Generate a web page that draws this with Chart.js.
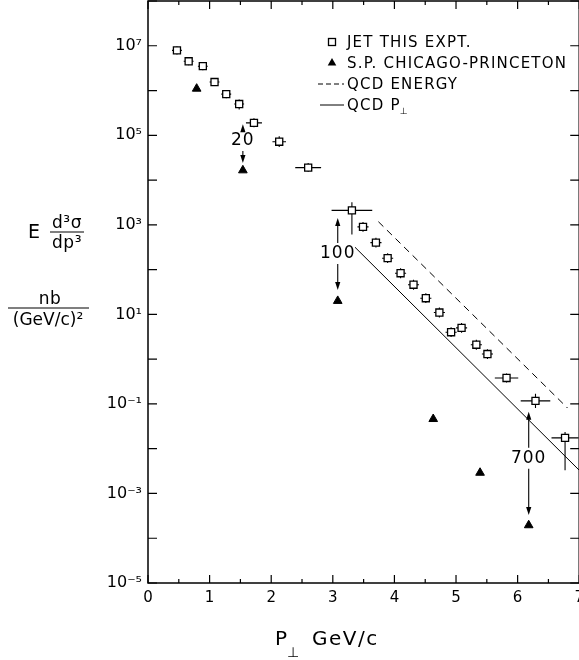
<!DOCTYPE html>
<html>
<head>
<meta charset="utf-8">
<title>Jet cross section</title>
<script src="https://cdn.jsdelivr.net/npm/chart.js@4.4.1/dist/chart.umd.min.js"></script>
<style>
    html, body { margin: 0; padding: 0; background: #fff; overflow: hidden; }
    canvas { display: block; }
</style>
</head>
<body>
<canvas id="grafico" width="590" height="660"></canvas>
<script>
// =======================
// DATA
// =======================

// JET, this experiment: P_perp (GeV/c) and E d3sigma/dp3 (nb/(GeV/c)^2)
const jetPt = [0.47, 0.66, 0.89, 1.08, 1.27, 1.48, 1.72, 2.13, 2.60, 3.31,
    3.49, 3.70, 3.89, 4.10, 4.31, 4.51, 4.73, 4.92, 5.09, 5.33, 5.51,
    5.82, 6.29, 6.77];
const jetSigma = [7.9e6, 4.5e6, 3.5e6, 1.55e6, 8.3e5, 5.0e5, 1.9e5, 7.2e4,
    1.9e4, 2.1e3, 9.0e2, 4.0e2, 1.8e2, 83, 46, 23, 11, 4.0, 5.0, 2.1, 1.3,
    0.38, 0.117, 0.0174];

// error bars: half width in P_perp, up / down in decades
const jetPtErr = [0.08, 0.08, 0.08, 0.08, 0.08, 0.08, 0.13, 0.11, 0.21, 0.33,
    0.09, 0.09, 0.09, 0.09, 0.09, 0.09, 0.09, 0.09, 0.09, 0.09, 0.09,
    0.19, 0.24, 0.22];
const jetErrUp = [0.09, 0.09, 0.09, 0.09, 0.09, 0.1, 0.1, 0.12, 0.1, 0.18,
    0.11, 0.11, 0.11, 0.11, 0.11, 0.11, 0.11, 0.11, 0.11, 0.11, 0.11,
    0.1, 0.16, 0.13];
const jetErrDown = [0.09, 0.09, 0.09, 0.09, 0.09, 0.12, 0.1, 0.12, 0.1, 0.54,
    0.11, 0.11, 0.11, 0.11, 0.11, 0.11, 0.11, 0.11, 0.11, 0.11, 0.11,
    0.1, 0.16, 0.72];

// single particle, Chicago-Princeton
const spPt = [0.79, 1.54, 3.08, 4.63, 5.39, 6.18];
const spSigma = [1.1e6, 1.65e4, 20, 0.046, 0.0029, 1.95e-4];

// QCD predictions (straight lines on the log scale)
const qcdEnergyPt = [3.74, 6.81];
const qcdEnergySigma = [1175, 0.081];
const qcdPerpPt = [3.36, 7.0];
const qcdPerpSigma = [316, 0.0033];

// jet / single particle ratios marked with arrows
const ratioText = ["20", "100", "700"];
const ratioPt = [1.54, 3.08, 6.18];
const ratioTop = [1.76e5, 1.42e3, 0.067];
const ratioMid = [7.9e4, 235, 6.3e-3];
const ratioBottom = [2.4e4, 35, 3.3e-4];

// axis ticks
const ptTicks = [0, 0.5, 1, 1.5, 2, 2.5, 3, 3.5, 4, 4.5, 5, 5.5, 6, 6.5, 7];
const decades = [-5, -4, -3, -2, -1, 0, 1, 2, 3, 4, 5, 6, 7, 8];
const labelledDecades = [-5, -3, -1, 1, 3, 5, 7];

const FONT = '"DejaVu Sans", sans-serif';

const SUP = { "-": "\u207B", "0": "\u2070", "1": "\u00B9", "2": "\u00B2",
    "3": "\u00B3", "4": "\u2074", "5": "\u2075", "6": "\u2076",
    "7": "\u2077", "8": "\u2078", "9": "\u2079" };

function powerLabel(v)
{
    const e = Math.round(Math.log10(v));
    if (!labelledDecades.includes(e)) return "";
    return "10" + String(e).split("").map(c => SUP[c]).join("");
}

function pairs(xs, ys)
{
    return xs.map((x, i) => ({ x: x, y: ys[i] }));
}

// =======================
// EXTRA DRAWING
// =======================

function arrow(ctx, x, y0, y1)
{
    // shaft from y0 to y1, head at y1
    const dir = y1 > y0 ? 1 : -1;
    ctx.beginPath();
    ctx.moveTo(x, y0);
    ctx.lineTo(x, y1 - dir * 6);
    ctx.stroke();
    ctx.beginPath();
    ctx.moveTo(x, y1);
    ctx.lineTo(x - 2.6, y1 - dir * 8);
    ctx.lineTo(x + 2.6, y1 - dir * 8);
    ctx.closePath();
    ctx.fill();
}

function spaced(ctx, text, x, y, size, spacing)
{
    ctx.font = size + "px " + FONT;
    ctx.letterSpacing = spacing + "px";
    ctx.fillText(text, x, y);
    const w = ctx.measureText(text).width;
    ctx.letterSpacing = "0px";
    return w;
}

const extras = {
    id: "extras",

    // frame runs right up to the top edge of the canvas
    afterLayout(chart)
    {
        const a = chart.chartArea, sy = chart.scales.y;
        a.top = 1;
        a.height = a.bottom - a.top;
        sy.top = 1;
        sy.height = sy.bottom - sy.top;
        sy.configure();
    },

    beforeDatasetsDraw(chart)
    {
        const { ctx, chartArea: a, scales } = chart;
        const sx = scales.x, sy = scales.y;

        ctx.save();
        ctx.beginPath();
        ctx.rect(a.left, a.top, a.right - a.left, a.bottom - a.top);
        ctx.clip();
        ctx.strokeStyle = "#000";
        ctx.lineWidth = 1.1;

        jetPt.forEach((p, i) =>
        {
            const cx = sx.getPixelForValue(p);
            const cy = sy.getPixelForValue(jetSigma[i]);
            ctx.beginPath();
            ctx.moveTo(sx.getPixelForValue(p - jetPtErr[i]), cy);
            ctx.lineTo(sx.getPixelForValue(p + jetPtErr[i]), cy);
            ctx.moveTo(cx, sy.getPixelForValue(jetSigma[i] * Math.pow(10, jetErrUp[i])));
            ctx.lineTo(cx, sy.getPixelForValue(jetSigma[i] / Math.pow(10, jetErrDown[i])));
            ctx.stroke();
        });
        ctx.restore();
    },

    afterDraw(chart)
    {
        const { ctx, chartArea: a, scales } = chart;
        const sx = scales.x, sy = scales.y;

        ctx.save();
        ctx.strokeStyle = "#000";
        ctx.fillStyle = "#000";

        // frame with inward ticks on all four sides
        ctx.lineWidth = 1.5;
        ctx.strokeRect(a.left, a.top, a.right - a.left, a.bottom - a.top);
        ctx.lineWidth = 1.2;
        ctx.beginPath();
        ptTicks.forEach(v =>
        {
            const X = sx.getPixelForValue(v);
            const len = Number.isInteger(v) ? 8 : 4;
            ctx.moveTo(X, a.bottom);
            ctx.lineTo(X, a.bottom - len);
            ctx.moveTo(X, a.top);
            ctx.lineTo(X, a.top + len);
        });
        decades.forEach(e =>
        {
            const Y = sy.getPixelForValue(Math.pow(10, e));
            ctx.moveTo(a.left, Y);
            ctx.lineTo(a.left + 9, Y);
            ctx.moveTo(a.right, Y);
            ctx.lineTo(a.right - 9, Y);
        });
        ctx.stroke();

        // ratio arrows
        ctx.lineWidth = 1.1;
        ctx.textAlign = "center";
        ctx.textBaseline = "middle";
        ratioText.forEach((t, i) =>
        {
            const X = sx.getPixelForValue(ratioPt[i]);
            const Ym = sy.getPixelForValue(ratioMid[i]);
            arrow(ctx, X, Ym - 10, sy.getPixelForValue(ratioTop[i]));
            arrow(ctx, X, Ym + 11, sy.getPixelForValue(ratioBottom[i]));
            spaced(ctx, t, X, Ym + 1, 17, 1);
        });

        // legend
        const ds = chart.data.datasets;
        const lx = 332, tx = 347;
        const rows = [42, 63, 84, 105];
        ctx.textAlign = "left";
        ctx.lineWidth = 1.3;
        ctx.fillStyle = "#fff";
        ctx.strokeRect(lx - 3.5, rows[0] - 3.5, 7, 7);
        ctx.fillStyle = "#000";
        ctx.beginPath();
        ctx.moveTo(lx, rows[1] - 5);
        ctx.lineTo(lx + 4.3, rows[1] + 2.5);
        ctx.lineTo(lx - 4.3, rows[1] + 2.5);
        ctx.closePath();
        ctx.fill();
        ctx.lineWidth = 1;
        ctx.setLineDash([5, 3]);
        ctx.beginPath();
        ctx.moveTo(318, rows[2]);
        ctx.lineTo(344, rows[2]);
        ctx.stroke();
        ctx.setLineDash([]);
        ctx.beginPath();
        ctx.moveTo(320, rows[3]);
        ctx.lineTo(344, rows[3]);
        ctx.stroke();
        ds.forEach((d, i) =>
        {
            const w = spaced(ctx, d.label, tx, rows[i] + 1, 15, 1.2);
            if (i === 3)
            {
                spaced(ctx, "\u22A5", tx + w - 1, rows[i] + 7, 9, 0);
            }
        });

        // x axis title
        ctx.textBaseline = "alphabetic";
        spaced(ctx, "P", 275, 645, 20, 0);
        spaced(ctx, "\u22A5", 287, 657, 14, 0);
        spaced(ctx, "GeV/c", 312, 645, 20, 1.5);

        // y axis title
        ctx.textAlign = "center";
        spaced(ctx, "E", 34, 238, 19, 0);
        spaced(ctx, "d\u00B3\u03C3", 67, 228, 17, 0.5);
        spaced(ctx, "dp\u00B3", 67, 248, 17, 0.5);
        ctx.lineWidth = 1.1;
        ctx.beginPath();
        ctx.moveTo(50, 232);
        ctx.lineTo(84, 232);
        ctx.moveTo(8, 308);
        ctx.lineTo(89, 308);
        ctx.stroke();
        spaced(ctx, "nb", 50, 304, 17, 0.5);
        spaced(ctx, "(GeV/c)\u00B2", 48, 325, 17, 0);

        ctx.restore();
    }
};

// =======================
// CHART
// =======================

const ctx = document.getElementById("grafico");

const grafico = new Chart(ctx, {
    type: "scatter",

    data: {
        datasets: [
            {
                label: "JET THIS EXPT.",
                data: pairs(jetPt, jetSigma),
                pointStyle: "rect",
                pointRadius: 5,
                borderColor: "#000",
                backgroundColor: "#fff",
                borderWidth: 1.3
            },
            {
                label: "S.P. CHICAGO-PRINCETON",
                data: pairs(spPt, spSigma),
                pointStyle: "triangle",
                pointRadius: 5,
                borderColor: "#000",
                backgroundColor: "#000",
                borderWidth: 1
            },
            {
                label: "QCD ENERGY",
                data: pairs(qcdEnergyPt, qcdEnergySigma),
                showLine: true,
                pointRadius: 0,
                borderColor: "#000",
                borderWidth: 1,
                borderDash: [7, 5]
            },
            {
                label: "QCD P",
                data: pairs(qcdPerpPt, qcdPerpSigma),
                showLine: true,
                pointRadius: 0,
                borderColor: "#000",
                borderWidth: 1
            }
        ]
    },

    options: {
        responsive: false,
        animation: false,
        layout: { padding: { top: 1, right: 8, left: 0, bottom: 0 } },
        plugins: {
            legend: { display: false },
            tooltip: { enabled: false }
        },
        scales: {
            x: {
                type: "linear",
                min: 0,
                max: 7,
                grid: { display: false, drawTicks: false },
                border: { display: false },
                afterBuildTicks: s => { s.ticks = ptTicks.map(v => ({ value: v })); },
                afterFit: s => { s.height = 77; },
                ticks: {
                    autoSkip: false,
                    maxRotation: 0,
                    padding: 6,
                    color: "#000",
                    font: { family: FONT, size: 15 },
                    callback: v => Number.isInteger(v) ? String(v) : ""
                }
            },
            y: {
                type: "logarithmic",
                min: 1e-5,
                max: 1e8,
                grid: { display: false, drawTicks: false },
                border: { display: false },
                afterBuildTicks: s => { s.ticks = decades.map(e => ({ value: Math.pow(10, e) })); },
                afterFit: s => { s.width = 148; s.paddingTop = 0; s.paddingBottom = 0; },
                ticks: {
                    autoSkip: false,
                    padding: 6,
                    color: "#000",
                    font: { family: FONT, size: 16 },
                    callback: v => powerLabel(v)
                }
            }
        }
    },

    plugins: [extras]
});
</script>
</body>
</html>
